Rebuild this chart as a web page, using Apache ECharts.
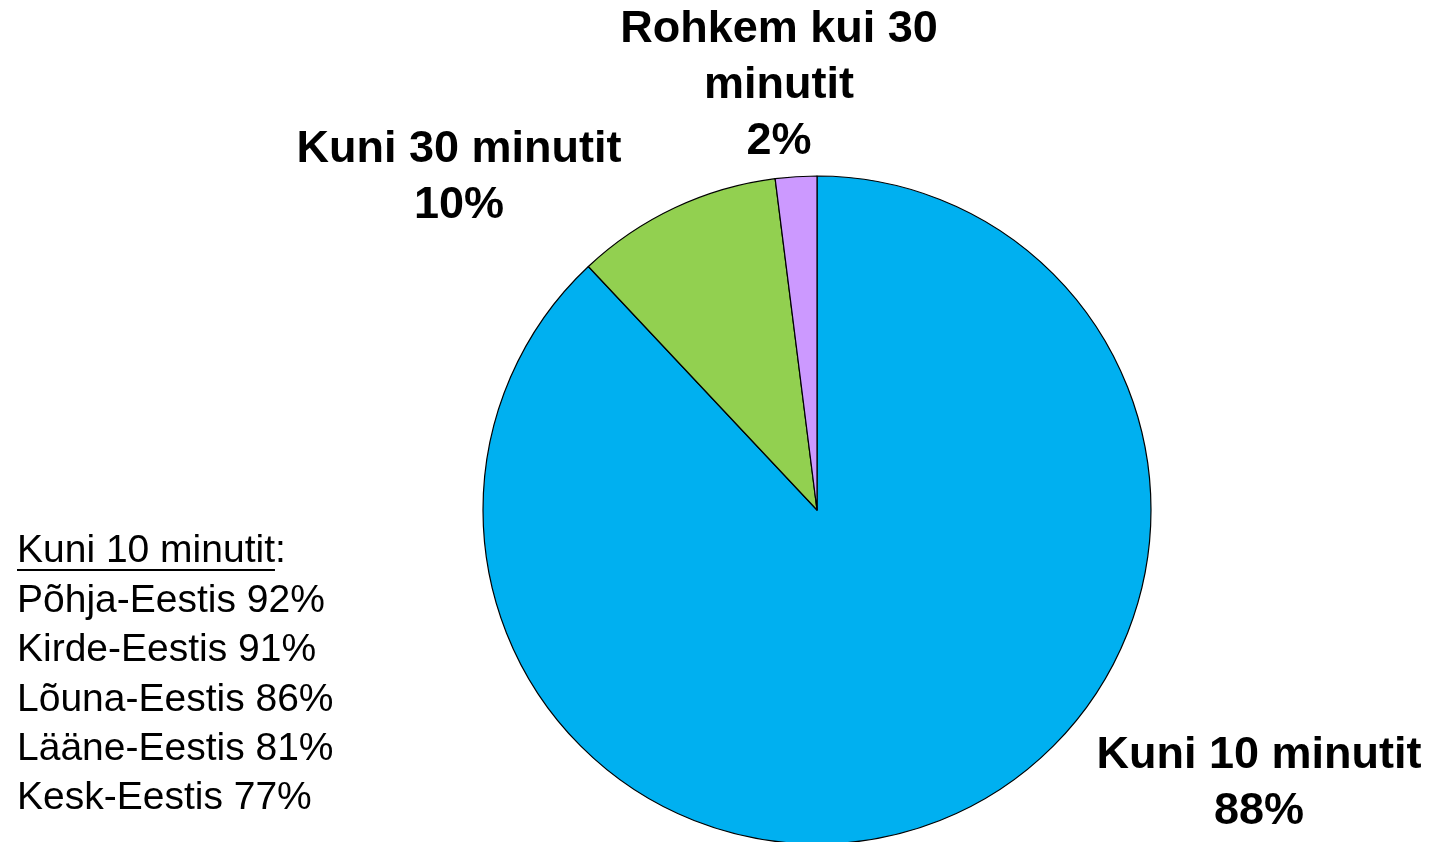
<!DOCTYPE html>
<html>
<head>
<meta charset="utf-8">
<script src="https://cdn.jsdelivr.net/npm/echarts@6/dist/echarts.min.js"></script>
<style>
  html, body { margin: 0; padding: 0; background: #fff; }
  #main { width: 1434px; height: 842px; }
</style>
</head>
<body>
<div id="main"></div>
<script>
// andmed
var categories = ['Kuni 10 minutit', 'Kuni 30 minutit', 'Rohkem kui 30 minutit'];
var values = [88, 10, 2];
var labelNames = ['Kuni 10 minutit', 'Kuni 30 minutit', 'Rohkem kui 30\nminutit'];
var regions = ['Põhja-Eestis 92%', 'Kirde-Eestis 91%', 'Lõuna-Eestis 86%', 'Lääne-Eestis 81%', 'Kesk-Eestis 77%'];
var noteTitle = 'Kuni 10 minutit';

var colors = ['#00B0F0', '#92D050', '#CC99FF'];
// sildi keskpunktid
var labelPos = [[1259, 784], [459, 178], [779, 86]];

var noteFont = '39px "Liberation Sans"';
var ctx = document.createElement('canvas').getContext('2d');
ctx.font = noteFont;
var underlineW = ctx.measureText(noteTitle).width;

var chart = echarts.init(document.getElementById('main'));

var seriesData = categories.map(function (c, i) {
  return { name: c, value: values[i], itemStyle: { color: colors[i] } };
});

var option = {
  backgroundColor: '#fff',
  animation: false,
  textStyle: { fontFamily: 'Liberation Sans' },
  series: [{
    type: 'pie',
    center: [817, 510],
    radius: 334,
    startAngle: 90,
    clockwise: true,
    data: seriesData,
    itemStyle: { borderColor: '#000', borderWidth: 1.2 },
    label: {
      show: true,
      position: 'outside',
      formatter: function (p) {
        return labelNames[p.dataIndex] + '\n' + p.value + '%';
      },
      fontFamily: 'Liberation Sans',
      fontWeight: 'bold',
      fontSize: 45,
      lineHeight: 56,
      color: '#000',
      align: 'center'
    },
    labelLine: { show: false },
    labelLayout: function (p) {
      var pos = labelPos[p.dataIndex];
      return { x: pos[0], y: pos[1], align: 'center', verticalAlign: 'middle' };
    },
    emphasis: { disabled: true }
  }],
  graphic: [{
    type: 'text',
    left: 17,
    top: 527,
    style: {
      text: noteTitle + ':\n' + regions.join('\n'),
      font: noteFont,
      lineHeight: 49.4,
      fill: '#000'
    }
  }, {
    type: 'line',
    shape: { x1: 17, y1: 570, x2: 17 + underlineW, y2: 570 },
    style: { stroke: '#000', lineWidth: 2 }
  }]
};

chart.setOption(option);
</script>
</body>
</html>
